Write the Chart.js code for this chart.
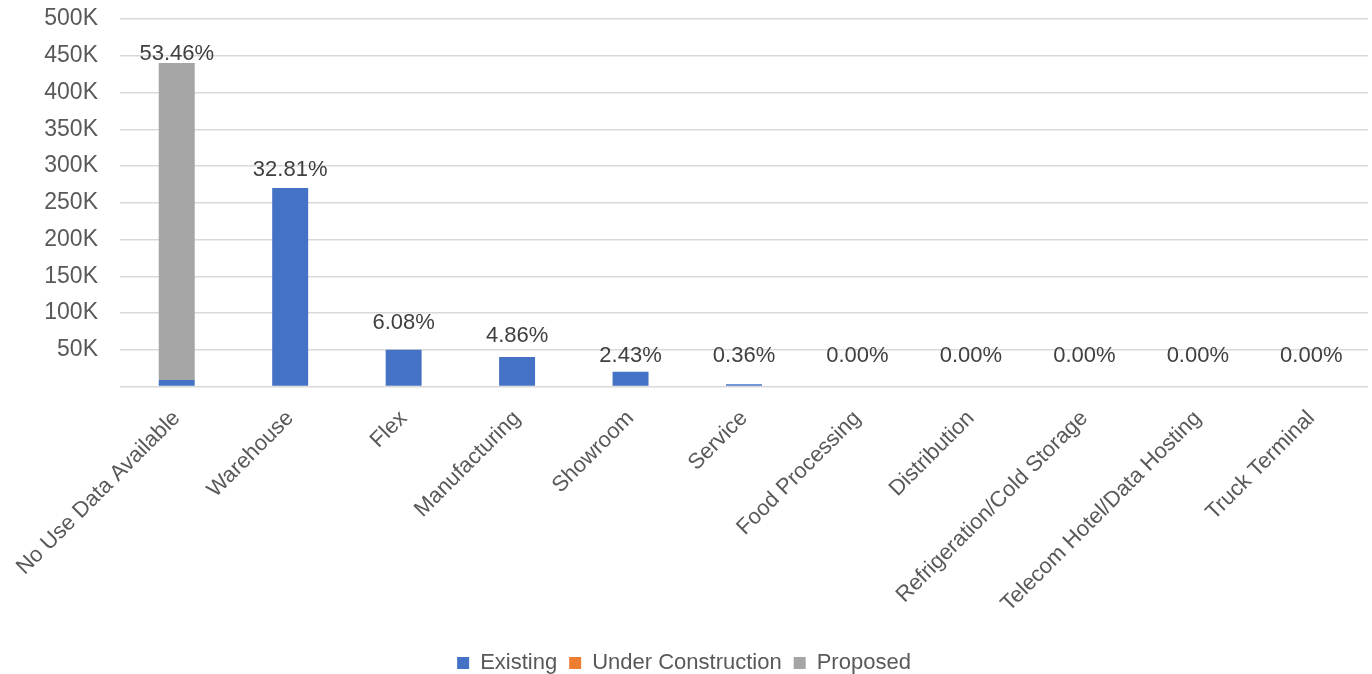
<!DOCTYPE html>
<html>
<head>
<meta charset="utf-8">
<script src="https://cdn.jsdelivr.net/npm/chart.js@4.4.1/dist/chart.umd.min.js"></script>
<style>
html,body{margin:0;padding:0;background:#fff;}
#wrap{width:1372px;height:674px;position:relative;}
</style>
</head>
<body>
<div id="wrap"><canvas id="c"></canvas></div>
<script>
const categories = ["No Use Data Available","Warehouse","Flex","Manufacturing","Showroom","Service","Food Processing","Distribution","Refrigeration/Cold Storage","Telecom Hotel/Data Hosting","Truck Terminal"];
const existing = [9000, 270000, 50000, 40000, 20000, 3000, 0, 0, 0, 0, 0];
const underConstruction = [0, 0, 0, 0, 0, 0, 0, 0, 0, 0, 0];
const proposed = [431000, 0, 0, 0, 0, 0, 0, 0, 0, 0, 0];
const shareLabels = ["53.46%","32.81%","6.08%","4.86%","2.43%","0.36%","0.00%","0.00%","0.00%","0.00%","0.00%"];
const labelPositions = [452000, 294000, 87000, 69000, 42000, 42000, 42000, 42000, 42000, 42000, 42000];

const FONT = "'Liberation Sans', Arial, sans-serif";

const labelPlugin = {
  id: 'shareLabels',
  afterInit(chart) {
    const lg = chart.legend;
    if (lg) {
      const f = lg.fit;
      lg.fit = function () { f.call(this); this.height -= 10; };
    }
  },
  afterDatasetsDraw(chart) {
    const ctx = chart.ctx;
    const x = chart.scales.x, y = chart.scales.y;
    ctx.save();
    ctx.font = "22px " + FONT;
    ctx.fillStyle = "#404040";
    ctx.textAlign = "center";
    ctx.textBaseline = "middle";
    shareLabels.forEach((t, i) => {
      ctx.fillText(t, x.getPixelForValue(i), y.getPixelForValue(labelPositions[i]));
    });
    ctx.restore();
  }
};

new Chart(document.getElementById('c'), {
  type: 'bar',
  data: {
    labels: categories,
    datasets: [
      {label: 'Existing', data: existing, backgroundColor: '#4472C4'},
      {label: 'Under Construction', data: underConstruction, backgroundColor: '#ED7D31'},
      {label: 'Proposed', data: proposed, backgroundColor: '#A5A5A5'}
    ]
  },
  options: {
    responsive: true,
    maintainAspectRatio: false,
    animation: false,
    layout: {padding: {top: 19, right: 4, left: 0, bottom: 0}},
    datasets: {bar: {barPercentage: 1, categoryPercentage: 0.317, borderWidth: 0}},
    scales: {
      x: {
        stacked: true,
        grid: {display: false},
        border: {display: false},
        afterFit: s => { s.height += 12; },
        ticks: {
          font: {family: FONT, size: 22},
          color: '#595959',
          maxRotation: 45, minRotation: 45,
          autoSkip: false,
          padding: 11
        }
      },
      y: {
        stacked: true,
        min: 0, max: 500000,
        afterFit: s => { s.width = 120; },
        grid: {color: '#d9d9d9', lineWidth: 1.5, drawTicks: true, tickLength: 22, tickColor: 'rgba(0,0,0,0)'},
        border: {display: false},
        ticks: {
          stepSize: 50000,
          font: {family: FONT, size: 23},
          color: '#595959',
          padding: 0,
          callback: v => v === 0 ? '' : (v/1000) + 'K'
        }
      }
    },
    plugins: {
      legend: {
        position: 'bottom',
        labels: {
          font: {family: FONT, size: 22},
          color: '#595959',
          boxWidth: 12, boxHeight: 12,
          padding: 12
        }
      },
      tooltip: {enabled: false}
    }
  },
  plugins: [labelPlugin]
});
</script>
</body>
</html>
